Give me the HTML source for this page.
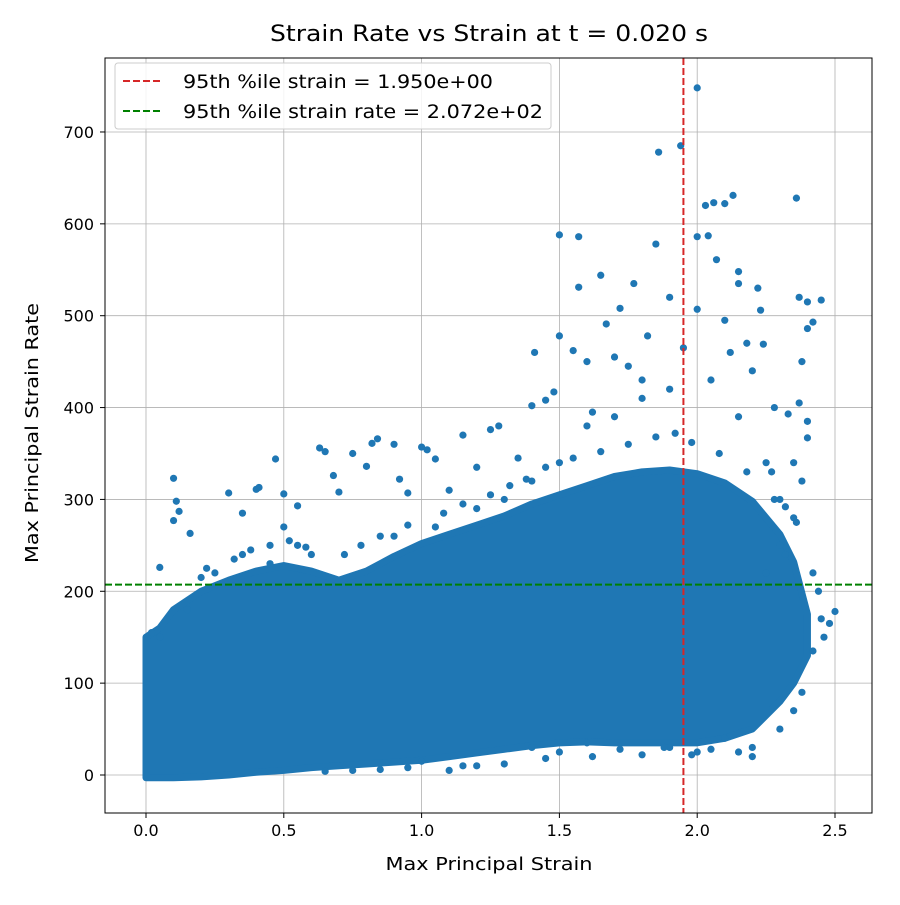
<!DOCTYPE html>
<html><head><meta charset="utf-8"><style>
body{margin:0;background:#fff;font-family:"Liberation Sans","DejaVu Sans",sans-serif;}
svg text{font-family:"DejaVu Sans","Liberation Sans",sans-serif;}
</style></head><body>
<svg id="chart" width="900" height="900" xmlns="http://www.w3.org/2000/svg">
<rect width="900" height="900" fill="#fff"/>
<g id="grid"></g>
<g id="blob"></g>
<g id="pts"></g>
<g id="refs"></g>
<rect x="105" y="58" width="767" height="755" fill="none" stroke="#000" stroke-width="1"/>
<g id="ticks"></g>
<text x="489" y="41" font-size="22" text-anchor="middle" textLength="438" lengthAdjust="spacingAndGlyphs">Strain Rate vs Strain at t = 0.020 s</text>
<text x="489" y="870" font-size="18" text-anchor="middle" textLength="207" lengthAdjust="spacingAndGlyphs">Max Principal Strain</text>
<text x="38" y="433" font-size="18" text-anchor="middle" textLength="260" lengthAdjust="spacingAndGlyphs" transform="rotate(-90 38 433)">Max Principal Strain Rate</text>
<g>
<rect x="115" y="63" width="436" height="66" rx="3" fill="#fff" fill-opacity="0.85" stroke="#ccc"/>
<line x1="123" y1="81" x2="163" y2="81" stroke="#d62728" stroke-width="2" stroke-dasharray="7,3"/>
<text x="183" y="88" font-size="19" textLength="310" lengthAdjust="spacingAndGlyphs">95th %ile strain = 1.950e+00</text>
<line x1="123" y1="111" x2="163" y2="111" stroke="#008000" stroke-width="2" stroke-dasharray="7,3"/>
<text x="183" y="118" font-size="19" textLength="360" lengthAdjust="spacingAndGlyphs">95th %ile strain rate = 2.072e+02</text>
</g>
</svg>
<script>
const xTicks=[0,0.5,1,1.5,2,2.5];
const xTickLabels=["0.0","0.5","1.0","1.5","2.0","2.5"];
const yTicks=[0,100,200,300,400,500,600,700];
const yTickLabels=["0","100","200","300","400","500","600","700"];
const strainP95=1.95;
const rateP95=207.2;
const envX=[0,0.05,0.1,0.2,0.3,0.4,0.5,0.6,0.7,0.8,0.9,1.0,1.1,1.2,1.3,1.4,1.5,1.6,1.7,1.8,1.9,2.0,2.1,2.2,2.3,2.35,2.4];
const envHi=[150,160,180,200,212,222,228,222,212,222,238,252,262,272,282,295,305,315,325,330,332,328,318,298,262,232,175];
const envLo=[-3,-3,-3,-2,0,3,5,8,10,12,14,16,20,24,28,32,35,36,35,35,35,35,40,50,80,100,130];
const ptX=[0.1,0.11,0.1,0.12,0.16,0.05,0.3,0.35,0.4,0.41,0.47,0.5,0.55,0.63,0.65,0.68,0.7,0.75,0.8,0.82,0.84,0.9,0.92,0.95,1.0,1.02,1.05,1.1,1.15,1.2,1.25,1.28,1.35,1.4,1.41,1.45,1.48,1.5,1.5,1.55,1.57,1.57,1.6,1.62,1.65,1.67,1.7,1.72,1.75,1.77,1.8,1.82,1.85,1.86,1.9,1.94,1.95,2.0,2.0,2.0,2.03,2.04,2.06,2.07,2.1,2.13,2.1,2.12,2.15,2.15,2.18,2.2,2.22,2.23,2.24,2.28,2.33,2.36,2.37,2.38,2.4,2.42,2.45,2.4,2.4,2.37,2.4,2.45,2.48,2.5,2.46,2.42,2.38,2.35,2.3,2.2,2.1,2.0,1.9,1.8,1.6,1.5,1.4,1.2,1.0,1.1,2.25,2.3,2.35,2.38,2.35,2.3,0.6,0.55,0.5,0.45,0.35,0.25,0.9,1.05,1.2,1.3,1.4,1.5,1.6,1.7,1.8,1.9,2.05,2.15,2.25,0.15,0.05,0.02,0.2,0.22,0.32,0.38,0.45,0.52,0.58,0.72,0.78,0.85,0.95,1.08,1.15,1.25,1.32,1.38,1.45,1.55,1.65,1.75,1.85,1.92,1.98,2.08,2.18,2.28,2.32,2.36,2.42,2.44,2.27,2.32,2.2,2.15,2.05,1.98,1.88,1.72,1.62,1.45,1.3,1.15,0.95,0.85,0.75,0.65];
const ptY=[323,298,277,287,263,226,307,285,311,313,344,306,293,356,352,326,308,350,336,361,366,360,322,307,357,354,344,310,370,335,376,380,345,402,460,408,417,478,588,462,531,586,450,395,544,491,455,508,445,535,430,478,578,678,520,685,465,748,586,507,620,587,623,561,622,631,495,460,548,535,470,440,530,506,469,400,393,628,520,450,515,493,517,486,385,405,367,170,165,178,150,135,90,70,50,30,40,25,30,22,35,25,30,10,15,5,220,250,280,320,340,300,240,250,270,230,240,220,260,270,290,300,320,340,380,390,410,420,430,390,340,180,150,155,215,225,235,245,250,255,248,240,250,260,272,285,295,305,315,322,335,345,352,360,368,372,362,350,330,300,292,275,220,200,330,240,20,25,28,22,30,28,20,18,12,10,8,6,5,4];
const NS="http://www.w3.org/2000/svg";
const X=v=>146+v*275.6;
const Y=v=>775-v*0.9186;
function mk(t,a,p){const e=document.createElementNS(NS,t);for(const k in a)e.setAttribute(k,a[k]);p.appendChild(e);return e;}
const grid=document.getElementById('grid'),ticks=document.getElementById('ticks');
xTicks.forEach((v,i)=>{
 const g=mk('line',{x1:X(v),x2:X(v),y1:58,y2:813,stroke:'#b0b0b0','stroke-width':0.8},grid);
 
 
 mk('line',{x1:X(v),x2:X(v),y1:813,y2:818,stroke:'#000'},ticks);
 const t=mk('text',{x:X(v),y:836,'font-size':16,'text-anchor':'middle'},ticks);t.textContent=xTickLabels[i];
 
 
});
yTicks.forEach((v,i)=>{
 const g=mk('line',{x1:105,x2:872,y1:Y(v),y2:Y(v),stroke:'#b0b0b0','stroke-width':0.8},grid);
 
 
 mk('line',{x1:100,x2:105,y1:Y(v),y2:Y(v),stroke:'#000'},ticks);
 const t=mk('text',{x:94,y:Y(v)+6,'font-size':16,'text-anchor':'end'},ticks);t.textContent=yTickLabels[i];
 
 
});
let d='';
envX.forEach((v,i)=>{d+=(i?'L':'M')+X(v)+','+Y(envHi[i]);});
for(let i=envX.length-1;i>=0;i--)d+='L'+X(envX[i])+','+Y(envLo[i]);
const b=mk('path',{d:d+'Z',fill:'#1f77b4',stroke:'#1f77b4','stroke-width':7,'stroke-linejoin':'round'},document.getElementById('blob'));


const pts=document.getElementById('pts');
ptX.forEach((v,i)=>{
 const c=mk('circle',{cx:X(v),cy:Y(ptY[i]),r:3.6,fill:'#1f77b4'},pts);
 
 
});
const refs=document.getElementById('refs');
const l1=mk('line',{x1:X(strainP95),x2:X(strainP95),y1:58,y2:813,stroke:'#d62728','stroke-width':2,'stroke-dasharray':'7,3'},refs);


const l2=mk('line',{x1:105,x2:872,y1:Y(rateP95),y2:Y(rateP95),stroke:'#008000','stroke-width':2,'stroke-dasharray':'7,3'},refs);


</script>
</body></html>
